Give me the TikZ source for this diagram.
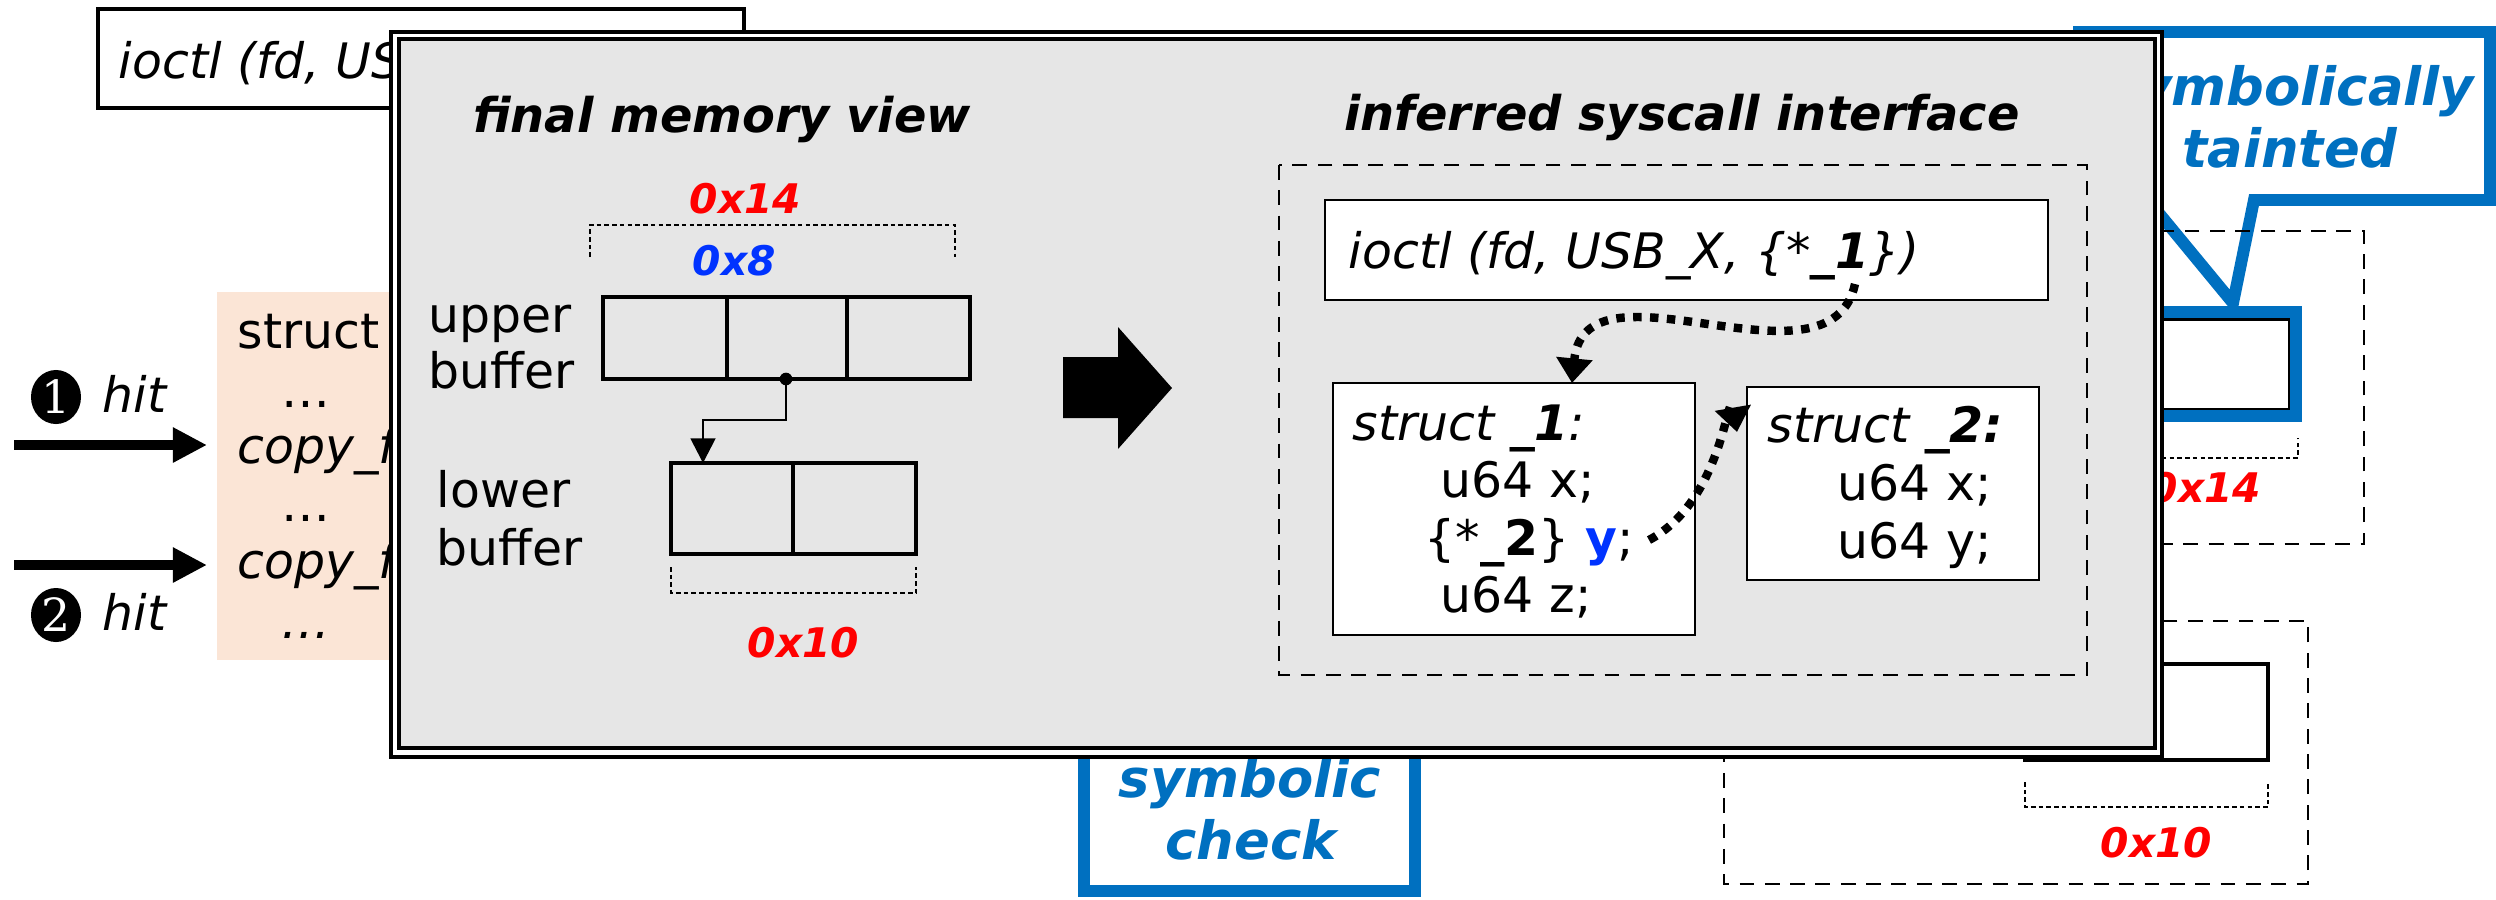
\documentclass[tikz,border=0pt]{standalone}
\usepackage{fontspec}
\setmainfont{DejaVu Sans}[ItalicFont={DejaVu Sans Oblique},BoldItalicFont={DejaVu Sans Bold Oblique}]
\newfontfamily\numfont{DejaVu Serif}
\usepackage{xcolor}
\usetikzlibrary{arrows.meta,shapes.geometric}

\definecolor{panelgray}{RGB}{230,230,230}
\definecolor{peach}{RGB}{251,229,214}
\definecolor{noteblue}{RGB}{0,112,192}
\definecolor{sizered}{RGB}{255,0,0}
\definecolor{ptrblue}{RGB}{0,51,255}

\tikzset{
  txt/.style={inner sep=0pt, anchor=base west, font=\fontsize{13.9}{16}\selectfont},
  ctxt/.style={txt, anchor=base},
  heading/.style={ctxt, font=\fontsize{13.6}{16}\selectfont\bfseries\itshape},
  sizelbl/.style={txt, text=sizered, font=\fontsize{11.6}{14}\selectfont\bfseries\itshape},
  notetxt/.style={ctxt, text=noteblue, font=\fontsize{15}{18}\selectfont\bfseries\itshape},
  notebox/.style={draw=noteblue, line width=3.4pt, fill=white},
  cell/.style={draw, line width=1.4pt},
  bracket/.style={line width=0.4pt, dash pattern=on 1.3pt off 0.9pt},
  region/.style={line width=0.8pt, dash pattern=on 4.2pt off 3pt},
  codebox/.style={draw, fill=white, line width=0.6pt},
  hitarrow/.style={line width=3.1pt, -{Triangle[length=9.7pt,width=9.4pt]}},
  ptrarrow/.style={line width=0.8pt, -{Triangle[length=7pt,width=7pt]}},
  refarrow/.style={line width=2.4pt, dash pattern=on 2.4pt off 2.4pt, -{Triangle[length=7pt,width=10pt]}},
  numdot/.style={ellipse, fill=black, text=white, inner sep=0pt, minimum width=0.5cm, minimum height=0.54cm, font=\numfont\fontsize{13}{13}\selectfont}
}

\begin{document}
\begin{tikzpicture}[x=0.01cm, y=-0.01cm]
\useasboundingbox (0,0) rectangle (2496,899);

% ---------- behind the panel ----------
% original call
\draw[fill=white, line width=0.9pt] (98,9) rectangle (744,108);
\node[txt, font=\fontsize{13.9}{16}\selectfont\itshape] (oldcall) at (118,78) {ioctl (fd, USB\_X};

% driver trace
\fill[peach] (217,292) rectangle (400,660);
\node[txt] (tr1) at (237,348) {struct};
\node[ctxt] (tr2) at (306,407) {…};
\node[txt] (tr3) at (237,463) {\itshape copy\_f};
\node[ctxt] (tr4) at (306,521) {…};
\node[txt] (tr5) at (237,578) {\itshape copy\_f};
\node[ctxt] (tr6) at (306,638) {\itshape …};

% hits
\coordinate (hitAs) at (14,445);
\coordinate (hitAe) at (207,445);
\draw[hitarrow] (hitAs) -- (hitAe);
\node[numdot] (hitAnum) at (56,397) {1};
\node[txt] (hitAlbl) at (102,412) {\itshape hit};
\coordinate (hitBs) at (14,565);
\coordinate (hitBe) at (207,565);
\draw[hitarrow] (hitBs) -- (hitBe);
\node[numdot] (hitBnum) at (56,615) {2};
\node[txt] (hitBlbl) at (102,630) {\itshape hit};

% callouts
\draw[notebox] (2079,32) -- (2490,32) -- (2490,200) -- (2254,200) -- (2233,303) -- (2148,200) -- (2079,200) -- cycle;
\node[notetxt] (taint1) at (2290,105) {symbolically};
\node[notetxt] (taint2) at (2290,167) {tainted};
\draw[notebox] (1084,700) rectangle (1415,891);
\node[notetxt] (check1) at (1250,797) {symbolic};
\node[notetxt] (check2) at (1251,859) {check};

% buffers on the right
\draw[region] (1990,231) rectangle (2364,544);
\draw[cell] (2030,319) rectangle (2290,410);
\draw[notebox, fill=none] (2060,312) rectangle (2296,416);
\draw[bracket] (2100,458) -- (2298,458) -- (2298,438);
\node[sizelbl] (rsz14) at (2149,502) {0x14};
\draw[region] (1724,621) rectangle (2308,884);
\draw[cell] (2025,664) rectangle (2268,760);
\draw[cell] (2146,664) -- (2146,760);
\draw[bracket] (2025,782) -- (2025,807) -- (2268,807) -- (2268,782);
\node[sizelbl] (rsz10) at (2100,857) {0x10};

% ---------- panel ----------
\draw[line width=0.9pt, fill=white] (391,32) rectangle (2162,757);
\draw[line width=1.2pt, fill=panelgray] (399,39) rectangle (2155,748);

% final memory view
\node[heading] (viewttl) at (722,132) {final memory view};
\node[sizelbl] (upsz) at (689,213) {0x14};
\draw[bracket] (590,257) -- (590,225) -- (955,225) -- (955,257);
\node[sizelbl, text=ptrblue] (ptrsz) at (692,275) {0x8};
\node[txt] (up1) at (428,332) {upper};
\node[txt] (up2) at (428,388) {buffer};
\draw[cell] (603,297) rectangle (970,379);
\foreach \x in {727,847} \draw[cell] (\x,297) -- (\x,379);
\node[txt] (low1) at (436,507) {lower};
\node[txt] (low2) at (436,565) {buffer};
\draw[cell] (671,463) rectangle (916,554);
\draw[cell] (793,463) -- (793,554);
\draw[bracket] (671,567) -- (671,593) -- (916,593) -- (916,567);
\node[sizelbl] (lowsz) at (747,657) {0x10};
% pointer from upper to lower buffer
\coordinate (ptr) at (786,379);
\coordinate (lowtop) at (703,463);
\fill (ptr) circle (1.8pt);
\draw[ptrarrow] (ptr) |- (744,420) -| (lowtop);

% big arrow
\fill (1063,357) -- (1118,357) -- (1118,327) -- (1172,388) -- (1118,449) -- (1118,418) -- (1063,418) -- cycle;

% inferred syscall interface
\node[heading] (ifacettl) at (1682,130) {inferred syscall interface};
\draw[region] (1279,165) rectangle (2087,675);
\draw[codebox, line width=0.8pt] (1325,200) rectangle (2048,300);
\node[txt] (call) at (1348,268) {\itshape ioctl (fd, USB\_X, \{*\textbf{\_1}\})};
\draw[codebox] (1333,383) rectangle (1695,635);
\node[txt] (s1a) at (1352,440) {\itshape struct \textbf{\_1}:};
\node[txt] (s1b) at (1440,497) {u64 x;};
\node[txt] (s1c) at (1424,555) {\{*\textbf{\_2}\} \textcolor{ptrblue}{\textbf{y}};};
\node[txt] (s1d) at (1440,612) {u64 z;};
\draw[codebox] (1747,387) rectangle (2039,580);
\node[txt] (s2a) at (1767,442) {\itshape struct \textbf{\_2:}};
\node[txt] (s2b) at (1837,500) {u64 x;};
\node[txt] (s2c) at (1837,558) {u64 y;};

% pointers between the types
\coordinate (ref1) at (1855,284);
\coordinate (s1top) at (1572,383);
\draw[refarrow] (ref1) .. controls (1830,400) and (1585,250) .. (s1top);
\coordinate (ref2) at (1649,540);
\coordinate (s2corner) at (1737,432);
\draw[refarrow] (ref2) .. controls (1725,500) and (1728,380) .. (s2corner);

\end{tikzpicture}
\end{document}
